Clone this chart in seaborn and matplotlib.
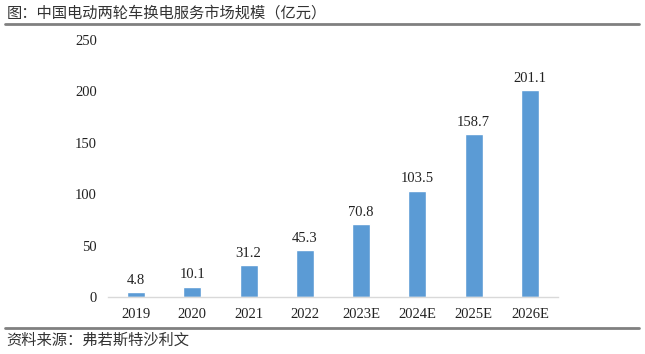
import matplotlib
import matplotlib.pyplot as plt
import seaborn as sns
import pandas as pd

years = ["2019", "2020", "2021", "2022", "2023E", "2024E", "2025E", "2026E"]
market_size = [4.8, 10.1, 31.2, 45.3, 70.8, 103.5, 158.7, 201.1]
y_ticks = [0, 50, 100, 150, 200, 250]
title = "图：中国电动两轮车换电服务市场规模（亿元）"
source = "资料来源：弗若斯特沙利文"

sns.set_style("white")
plt.rcParams['font.family'] = ['Liberation Serif', 'Noto Sans CJK SC', 'DejaVu Sans']

df = pd.DataFrame({"year": years, "value": market_size})

fig = plt.figure(figsize=(6.45, 3.54), dpi=100)
ax = fig.add_axes([0.1674, 0.161, 0.6977, 0.726])
sns.barplot(data=df, x="year", y="value", color="#5B9BD5", width=0.32,
            saturation=1, ax=ax)

for i, v in enumerate(market_size):
    ax.text(i, v + 5, f"{v:.1f}", ha="center", va="bottom", fontsize=10.5,
            color="#222222")

ax.set_ylim(0, 250)
ax.set_yticks(y_ticks)
ax.set_xlim(-0.5, len(years) - 0.5)
ax.set_xlabel("")
ax.set_ylabel("")
ax.tick_params(axis="both", labelsize=10.5, colors="#222222", length=0, pad=8)
for side in ["top", "right", "left"]:
    ax.spines[side].set_visible(False)
ax.spines["bottom"].set_color("#d9d9d9")
ax.spines["bottom"].set_linewidth(1)

fig.text(0.01, 0.963, title, fontsize=11, ha="left", va="center",
         family=['Noto Sans CJK SC', 'DejaVu Sans'], color="#333333")
fig.add_artist(plt.Line2D([0.008, 0.99], [0.932, 0.932], color="#808080",
                          lw=2, transform=fig.transFigure))
fig.add_artist(plt.Line2D([0.008, 0.99], [0.074, 0.074], color="#808080",
                          lw=2, transform=fig.transFigure))
fig.text(0.01, 0.038, source, fontsize=11, ha="left", va="center",
         family=['Noto Sans CJK SC', 'DejaVu Sans'], color="#333333")

fig.savefig("out.png", dpi=100)
